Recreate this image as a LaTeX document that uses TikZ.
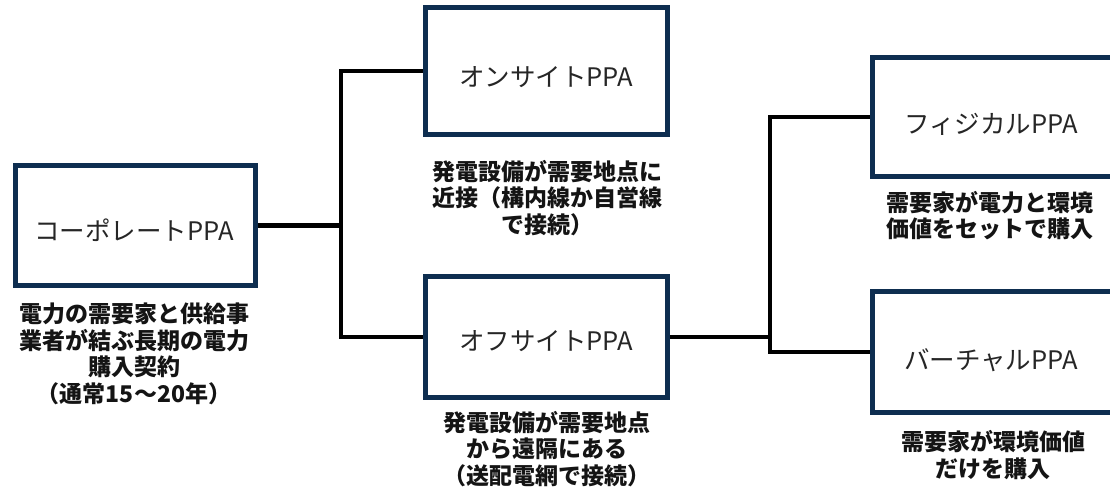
\documentclass[tikz,border=0pt]{standalone}
\usepackage{fontspec}
\setmainfont{Noto Sans CJK JP}
\definecolor{boxnavy}{RGB}{14,46,80}
\definecolor{boxtext}{RGB}{38,38,38}
\definecolor{desctext}{RGB}{20,20,20}
\tikzset{
  ppabox/.style={draw=boxnavy, line width=5pt, fill=white, inner sep=0pt, outer sep=0pt,
    minimum width=242pt},
  boxlabel/.style={text=boxtext, font=\fontsize{25.5}{30}\selectfont, inner sep=0pt},
  desc/.style={align=center, text=desctext, inner sep=0pt, font=\fontsize{23}{26.5}\selectfont\bfseries},
  conn/.style={draw=black, line width=4.5pt}
}
\begin{document}
\begin{tikzpicture}[x=1pt,y=-1pt]
\useasboundingbox (0,0) rectangle (1110,493);
\clip (0,0) rectangle (1110,493);
\fill[white] (0,0) rectangle (1110,493);
% junction coordinates
\coordinate (j1) at (341,228);
\coordinate (j2) at (770,230);
% boxes
\node[ppabox, minimum width=240.5pt, minimum height=120.5pt] (corp) at (135.25,225.25) {};
\node[ppabox, minimum height=126.5pt] (onsite) at (546.5,70.75) {};
\node[ppabox, minimum height=121.5pt] (offsite) at (546.5,336.75) {};
\node[ppabox, minimum height=118.5pt] (fiscal) at (993.5,116.75) {};
\node[ppabox, minimum height=121.5pt] (virtual) at (993.5,351.75) {};
% connectors
\draw[conn] (corp.east) -- (corp.east -| j1);
\draw[conn] (onsite.west) -| (j1 |- offsite.west) -- (offsite.west);
\draw[conn] (offsite.east) -- (offsite.east -| j2);
\draw[conn] (fiscal.west) -| (j2 |- virtual.west) -- (virtual.west);
% redraw box borders on top of connector ends
\foreach \n in {corp,onsite,offsite,fiscal,virtual}{
  \draw[boxnavy, line width=5pt] (\n.north west) rectangle (\n.south east);
}
% box labels
\node[boxlabel] (corplabel) at (134,230) {コーポレートPPA};
\node[boxlabel] (onsitelabel) at (546,77) {オンサイトPPA};
\node[boxlabel] (offsitelabel) at (546,341) {オフサイトPPA};
\node[boxlabel] (fiscallabel) at (991,124) {フィジカルPPA};
\node[boxlabel] (virtuallabel) at (991,360) {バーチャルPPA};
% descriptions
\node[desc] (corpdesc) at (134,354) {電力の需要家と供給事\\業者が結ぶ長期の電力\\購入契約\\（通常15～20年）};
\node[desc] (onsitedesc) at (547,198) {発電設備が需要地点に\\近接（構内線か自営線\\で接続）};
\node[desc] (offsitedesc) at (547,449) {発電設備が需要地点\\から遠隔にある\\（送配電網で接続）};
\node[desc] (fiscaldesc) at (990,215.5) {需要家が電力と環境\\価値をセットで購入};
\node[desc] (virtualdesc) at (993,455) {需要家が環境価値\\だけを購入};
\end{tikzpicture}
\end{document}
